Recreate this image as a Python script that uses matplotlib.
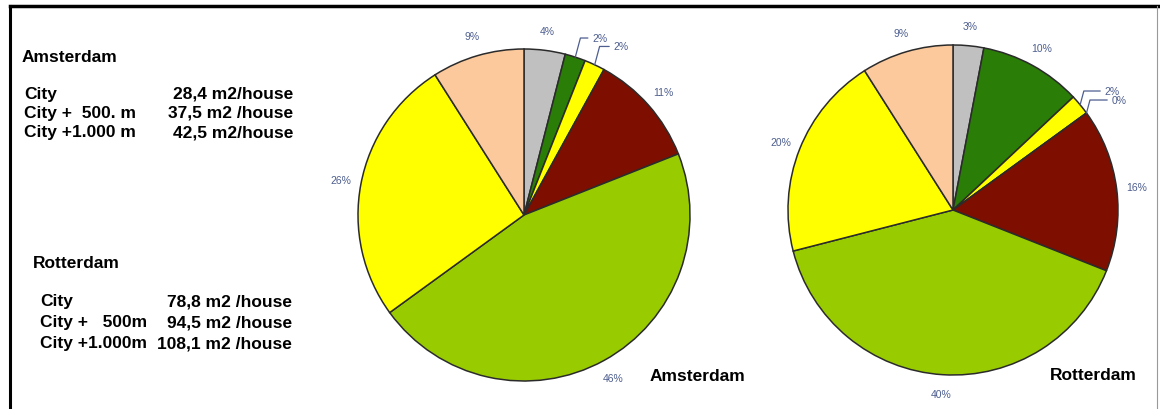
import matplotlib
matplotlib.use('Agg')
import matplotlib.pyplot as plt
from matplotlib.lines import Line2D
import numpy as np

# slice shares in percent, clockwise from 12 o'clock
ams_shares = [4, 2, 2, 11, 46, 26, 9]
ams_colors = ['#c0c0c0', '#2a7d06', '#ffff00', '#7d0e00', '#99cc00', '#ffff00', '#fbc99c']
ams_leader = [False, True, True, False, False, False, False]

rot_shares = [3, 10, 2, 0, 16, 40, 20, 9]
rot_colors = ['#c0c0c0', '#2a7d06', '#ffff00', '#ff9900', '#7d0e00', '#99cc00', '#ffff00', '#fbc99c']
rot_leader = [False, False, True, True, False, False, False, False]

ams_rows = ['City', 'City +  500. m', 'City +1.000 m']
ams_vals = ['28,4 m2/house', '37,5 m2 /house', '42,5 m2/house']
rot_rows = ['City', 'City +   500m', 'City +1.000m']
rot_vals = ['78,8 m2 /house', '94,5 m2 /house', '108,1 m2 /house']

W, H = 1160, 410
fig = plt.figure(figsize=(W / 100, H / 100), dpi=100)
fig.patch.set_facecolor('white')
plt.rcParams['font.family'] = ['Liberation Sans', 'DejaVu Sans']

lbl_color = '#4d5e8f'
txt_size = 12.5


def px(x, y):
    return x / W, 1 - y / H


def draw_pie(cx, cy, r, shares, colors, leader, title, title_xy):
    ax = fig.add_axes([(cx - r) / W, (H - cy - r) / H, 2 * r / W, 2 * r / H])
    wedges, _ = ax.pie(shares, colors=colors, startangle=90, counterclock=False,
                       wedgeprops=dict(edgecolor='#2b2b2b', linewidth=1.1))
    ax.set_xlim(-1, 1)
    ax.set_ylim(-1, 1)
    ax.set_aspect('equal')
    ax.axis('off')
    for w, s, lead in zip(wedges, shares, leader):
        mid = np.deg2rad((w.theta1 + w.theta2) / 2)
        ex, ey = np.cos(mid), np.sin(mid)
        if lead:
            ax.annotate('%d%%' % s, xy=(ex * 1.0, ey * 1.0),
                        xytext=(ex * 1.1 + 0.07, ey * 1.1 + 0.02),
                        fontsize=7.5, color=lbl_color, ha='left', va='center',
                        annotation_clip=False,
                        arrowprops=dict(arrowstyle='-', color=lbl_color, lw=0.9,
                                        connectionstyle='angle,angleA=180,angleB=75,rad=0',
                                        shrinkA=1, shrinkB=0))
        else:
            ax.text(ex * 1.12, ey * 1.12, '%d%%' % s, fontsize=7.5, color=lbl_color,
                    ha='center', va='center', clip_on=False)
    fig.text(*px(*title_xy), title, fontsize=txt_size, fontweight='bold', ha='left', va='center')


draw_pie(524, 216, 166, ams_shares, ams_colors, ams_leader, 'Amsterdam', (650, 377))
draw_pie(953, 211, 165, rot_shares, rot_colors, rot_leader, 'Rotterdam', (1050, 376))

# left text block
fig.text(*px(22, 57), 'Amsterdam', fontsize=txt_size, fontweight='bold', va='center')
for i, (a, b) in enumerate(zip(ams_rows, ams_vals)):
    y = 94 + i * 19.5
    fig.text(*px(24, y), a, fontsize=txt_size, fontweight='bold', va='center')
    fig.text(*px(293, y), b, fontsize=txt_size, fontweight='bold', va='center', ha='right')

fig.text(*px(33, 263), 'Rotterdam', fontsize=txt_size, fontweight='bold', va='center')
for i, (a, b) in enumerate(zip(rot_rows, rot_vals)):
    y = 302 + i * 21
    fig.text(*px(40, y), a, fontsize=txt_size, fontweight='bold', va='center')
    fig.text(*px(292, y), b, fontsize=txt_size, fontweight='bold', va='center', ha='right')

# frame
fig.add_artist(Line2D([10 / W, 1158 / W], [1 - 7 / H, 1 - 7 / H], color='black', lw=2.5,
                      transform=fig.transFigure))
fig.add_artist(Line2D([10 / W, 10 / W], [0, 1 - 7 / H], color='black', lw=2.2,
                      transform=fig.transFigure))
fig.add_artist(Line2D([1157 / W, 1157 / W], [0, 1 - 7 / H], color='#999999', lw=0.8,
                      transform=fig.transFigure))

plt.savefig('out.png', dpi=100)
